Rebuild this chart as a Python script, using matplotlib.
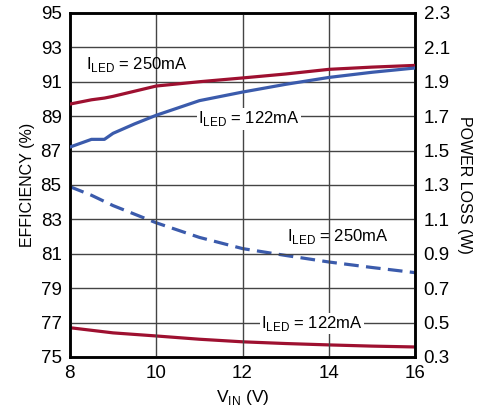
import matplotlib.pyplot as plt

plt.rcParams['font.family'] = ['Liberation Sans', 'DejaVu Sans']

# efficiency curves (left axis, %)
vin_eff = [8, 8.5, 8.8, 9, 9.5, 10, 11, 12, 13, 14, 15, 16]
eff_250 = [89.7, 89.95, 90.05, 90.15, 90.45, 90.75, 91.0, 91.22, 91.45, 91.72, 91.85, 91.95]
eff_122 = [87.2, 87.65, 87.65, 88.0, 88.55, 89.05, 89.9, 90.4, 90.85, 91.25, 91.55, 91.8]

# power loss curves (right axis, W)
vin_pl = [8, 8.5, 9, 10, 11, 12, 13, 14, 15, 16]
pl_250 = [1.29, 1.24, 1.18, 1.08, 0.995, 0.93, 0.89, 0.852, 0.82, 0.79]
pl_122 = [0.47, 0.455, 0.44, 0.422, 0.403, 0.388, 0.378, 0.37, 0.363, 0.358]

red = '#9E1030'
blue = '#3B5BAC'

fig, ax = plt.subplots(figsize=(4.92, 4.17), dpi=100)
fig.subplots_adjust(left=0.142, right=0.844, top=0.969, bottom=0.144)
ax2 = ax.twinx()

ax.plot(vin_eff, eff_250, color=red, lw=2.3, zorder=3)
ax.plot(vin_eff, eff_122, color=blue, lw=2.3, zorder=3)
ax2.plot(vin_pl, pl_250, color=blue, lw=2.3, ls=(0, (4.6, 2.3)))
ax2.plot(vin_pl, pl_122, color=red, lw=2.3)

ax.set_xlim(8, 16)
ax.set_ylim(75, 95)
ax2.set_ylim(0.3, 2.3)
ax.set_xticks(range(8, 17, 2))
ax.set_yticks(range(75, 96, 2))
ax2.set_yticks([0.3 + 0.2 * i for i in range(11)])
ax2.set_yticklabels(['%.1f' % (0.3 + 0.2 * i) for i in range(11)])

ax.grid(True, color='#444444', lw=1)
ax.tick_params(length=0, labelsize=13.5, pad=6)
ax2.tick_params(length=0, labelsize=13.5, pad=6)
for a in (ax, ax2):
    for s in a.spines.values():
        s.set_linewidth(1.8)

ax.set_xlabel('V$_{\\mathregular{IN}}$ (V)', fontsize=12.5, labelpad=4)
ax.set_ylabel('EFFICIENCY (%)', fontsize=11.5, labelpad=4)
ax2.set_ylabel('POWER LOSS (W)', fontsize=11.5, rotation=270, labelpad=16)

lbl = dict(fontsize=12, zorder=5, ha='center', va='center')
box = dict(facecolor='white', edgecolor='none', pad=1.0)
ax.text(9.55, 92.0, 'I$_{\\mathregular{LED}}$ = 250mA', **lbl)
ax.text(12.15, 88.85, 'I$_{\\mathregular{LED}}$ = 122mA', bbox=box, **lbl)
ax.text(14.2, 82.0, 'I$_{\\mathregular{LED}}$ = 250mA', **lbl)
ax.text(13.6, 76.95, 'I$_{\\mathregular{LED}}$ = 122mA', bbox=box, **lbl)

ax.set_zorder(ax2.get_zorder() + 1)
ax.patch.set_visible(False)

fig.savefig('out.png')
